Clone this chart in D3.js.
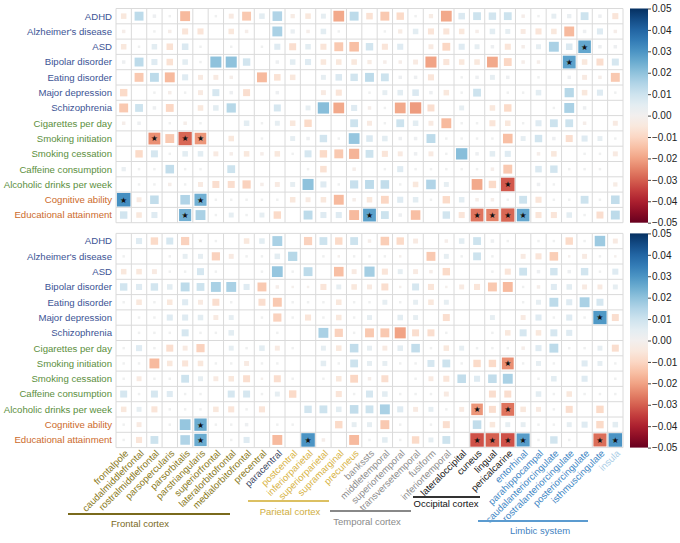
<!DOCTYPE html>
<html>
<head>
<meta charset="utf-8">
<script src="https://cdn.jsdelivr.net/npm/d3@7"></script>
<style>
  body { margin: 0; background: #fff; }
  svg text { font-family: "Liberation Sans", Arial, sans-serif; }
</style>
</head>
<body>
<svg id="chart" width="680" height="543"></svg>
<script>
// brain regions (columns) and the group each one belongs to
var regions = ["frontalpole", "caudalmiddlefrontal", "rostralmiddlefrontal", "parsopercularis",
  "parsorbitalis", "parstriangularis", "superiorfrontal", "lateralorbitofrontal", "medialorbitofrontal",
  "precentral", "paracentral", "postcentral", "inferiorparietal", "superiorparietal", "supramarginal",
  "precuneus", "bankssts", "middletemporal", "superiortemporal", "transversetemporal", "fusiform",
  "inferiortemporal", "lateraloccipital", "cuneus", "lingual", "pericalcarine", "entorhinal",
  "parahippocampal", "caudalanteriorcingulate", "rostralanteriorcingulate", "posteriorcingulate",
  "isthmuscingulate", "insula"];
var regionGroup = ["frontal", "frontal", "frontal", "frontal", "frontal", "frontal", "frontal", "frontal",
  "frontal", "frontal", "central", "parietal", "parietal", "parietal", "parietal", "parietal",
  "temporal", "temporal", "temporal", "temporal", "temporal", "temporal", "occipital", "occipital",
  "occipital", "occipital", "limbic", "limbic", "limbic", "limbic", "limbic", "limbic", "insula"];

// traits (rows)
var traits = ["ADHD", "Alzheimer's disease", "ASD", "Bipolar disorder", "Eating disorder",
  "Major depression", "Schizophrenia", "Cigarettes per day", "Smoking initiation", "Smoking cessation",
  "Caffeine consumption", "Alcoholic drinks per week", "Cognitive ability", "Educational attainment"];
var traitGroup = ["psych", "psych", "psych", "psych", "psych", "psych", "psych",
  "subst", "subst", "subst", "subst", "subst", "cog", "cog"];

// upper panel values, one array per trait
var topValues = [
  [-0.005,0.013,0.002,0.001,-0.016,0,0.001,-0.004,-0.013,0.005,0.015,-0.003,-0.005,0.004,-0.019,0.013,-0.007,-0.013,-0.009,0.001,-0.003,-0.019,0.007,0.01,0.009,0.01,-0.002,0.001,0.004,0.003,0.01,0.002,-0.006],
  [-0.002,0,0.001,-0.002,-0.006,-0.006,0,-0.005,-0.002,0,0.016,0.003,-0.002,0.005,0.001,0,0,0.001,-0.003,0.005,-0.006,-0.006,-0.005,-0.002,0.005,0.004,-0.004,-0.006,-0.005,-0.016,0.002,0.006,-0.002],
  [-0.005,0.001,0.005,-0.007,0.007,0.001,0,0.001,0,0.001,0.006,-0.008,0.005,-0.006,-0.013,-0.015,0.009,-0.006,0.006,0,-0.004,-0.01,0.006,0.004,0.002,-0.006,-0.002,0.004,0.016,0.007,0.026,0.002,0.002],
  [0.002,0.013,0.006,-0.007,0.005,0.001,0.02,0.02,0.009,0,0.002,0.005,0.006,-0.005,-0.005,-0.005,-0.003,-0.002,-0.002,-0.004,-0.02,-0.006,-0.005,-0.005,-0.019,-0.01,-0.002,-0.002,0,0.027,-0.005,-0.008,0.008],
  [0,-0.013,0.013,-0.016,0.006,-0.004,-0.004,-0.002,0,-0.016,-0.007,-0.005,0,0.004,0.007,0.009,0.013,0.01,0.002,0.002,-0.006,0,0.001,0.002,0.004,0.002,0,0.001,0,0.002,-0.004,-0.002,-0.013],
  [-0.009,0,0.001,-0.002,0.001,-0.004,0.008,0.002,-0.008,0,0.002,0,0,-0.004,-0.006,0,0.001,0.004,0.005,0.007,0.002,-0.005,0.001,0.01,0,0.001,0.001,0.005,0,0.014,-0.005,0.006,0.001],
  [-0.013,0.01,0.002,-0.01,0,-0.005,0.005,0.014,0,0,0.008,0,0.004,0.021,-0.019,0.006,-0.002,0.001,-0.019,-0.021,-0.008,0,0.004,0,-0.005,-0.009,0,0,0.001,0.016,0.002,0,0],
  [-0.002,0.002,0,0.001,-0.002,0.001,0,0,0.005,0.001,0.004,-0.005,-0.009,0,0,0.01,-0.004,0.001,0.01,0.005,-0.004,-0.016,0.001,0.001,-0.006,-0.005,0.001,0.006,0.01,0.01,-0.002,0,-0.004],
  [0,0,-0.023,-0.013,-0.029,-0.022,0,-0.005,0,0.001,0,0.004,0.002,0.009,0.001,0.019,0.007,0.005,0.002,0.002,0.013,0.001,0.001,0.001,0.001,-0.015,0.004,0.009,0.002,-0.008,0.006,0.004,0.001],
  [0,-0.009,0.008,0.001,0.005,0.005,-0.004,-0.002,-0.005,-0.002,-0.005,0.001,0.008,-0.009,-0.013,-0.017,0.01,-0.006,-0.004,0.002,-0.004,0.001,0.021,0.002,0.005,0.006,0,-0.002,-0.005,0,0.001,0.001,-0.004],
  [0.003,0.001,0.001,0.012,0.001,0.001,0,0.01,0,0,0,0,0.001,-0.007,0,-0.002,0,0.001,0.006,0.001,0.001,0.001,0.001,0.001,-0.002,-0.013,0,0.007,0.009,0.001,0.001,0.001,0],
  [0,0.001,0.001,-0.002,0.001,-0.004,-0.008,-0.008,-0.011,-0.002,-0.004,0.004,0.02,0.006,0.001,0.011,0.013,0.012,0.001,-0.005,0.015,0.004,0,-0.019,-0.009,-0.031,0,0.002,0.001,0,0,0,-0.003],
  [0.031,-0.004,0.012,0,0.015,0.024,0.001,0.001,0.001,0.001,0.001,-0.005,-0.004,-0.005,-0.016,-0.002,-0.005,-0.01,0.006,0.005,0.001,-0.009,0.005,-0.002,-0.002,0.001,0.01,-0.006,0.001,0.001,0.01,0.001,0.012],
  [0.009,-0.005,0.006,0,0.024,0.016,0.001,0.004,0.001,0.004,-0.009,0,0.013,0.006,0.006,-0.016,0.027,0.01,0.002,-0.015,0,0.009,-0.006,-0.027,-0.025,-0.029,0.026,-0.006,-0.006,0.005,0.001,-0.008,0.013]
];
// lower panel values
var bottomValues = [
  [0,0.006,-0.009,0.008,-0.011,0.001,0.001,0,-0.005,0.005,0.016,0,-0.011,0.01,-0.009,0.01,-0.002,-0.012,-0.009,-0.004,0,-0.002,0.005,0.01,0.002,0.001,0,0.001,0.001,-0.009,0.001,0.018,-0.004],
  [0.001,0,0,0.001,0.004,0.004,-0.011,-0.004,0.001,0.001,0.005,0.014,0,0.001,-0.001,0.001,0.001,0.001,-0.001,0,-0.013,0.004,0.001,0.01,0.001,0,-0.004,-0.006,-0.012,-0.001,-0.004,0.001,-0.001],
  [-0.005,-0.005,-0.004,0.001,0.001,0.008,0.001,0,0,0.001,0.019,0.001,0.013,0,-0.015,-0.004,0.017,-0.006,0.004,-0.004,-0.002,-0.009,0,0,0.001,-0.006,0.01,0.002,0.009,0.002,0.009,0.001,0.006],
  [0.009,0.006,0.009,0.005,0.013,0.01,0.016,0.016,0.006,-0.013,-0.002,-0.001,-0.001,-0.006,0.004,-0.005,-0.004,-0.008,-0.001,0.008,-0.006,-0.001,-0.004,-0.006,-0.013,-0.016,0.001,-0.002,0.006,0.005,-0.004,-0.004,0.004],
  [0.001,-0.005,0.001,-0.005,0.006,-0.004,-0.008,0.001,0,-0.008,-0.013,0.001,0.001,0.001,-0.005,0.001,0.001,0.004,0.001,0.004,-0.005,0.004,0,0,0,0,0.001,0.004,0.013,0.006,0.016,0.008,0],
  [0,0.001,0.001,0.006,0.006,0.005,-0.004,0.004,0,0.001,-0.011,0.001,-0.006,0.001,-0.005,0.001,0.004,0,0.005,0.004,0,-0.008,0,0,0.004,0,-0.004,0.006,0.001,0.006,0.001,0.029,-0.008],
  [0,0.001,0.001,0.001,0.008,0.001,0.001,0.005,0,0,0.001,0,0,0.016,-0.011,0.001,-0.013,-0.013,-0.02,-0.008,-0.008,0.001,0,0,0.001,-0.005,0.008,-0.005,0.008,0.006,0,0,0],
  [0.001,0.006,0.001,-0.008,-0.004,-0.011,0,0.004,0.001,0.005,-0.004,0.001,0,0.004,-0.005,0.012,0.004,-0.004,0.005,0.012,0.001,-0.005,0.004,0.001,0.001,0.001,-0.002,0.006,0.013,0.001,0.001,0.004,-0.008],
  [0.001,0.001,-0.016,-0.005,-0.006,-0.005,0.001,0.001,-0.004,0.001,0.001,0,0,0.005,0.001,0.01,0.004,0.004,0.001,0.001,0.008,0.01,0.001,-0.009,-0.009,-0.023,0.001,0.004,0.001,0,0.006,0.004,0.001],
  [0.001,-0.004,0.001,0.001,0.01,0.004,-0.004,-0.005,-0.008,-0.001,-0.008,0.001,0,0.001,-0.005,-0.01,-0.002,-0.008,0,0.001,-0.004,-0.006,0.012,0.006,0.012,0.016,0,0.001,0.005,0,0.006,0,0.001],
  [0.008,0.001,0.008,0.006,0.001,0.001,0,0.008,0.008,0.001,0.004,-0.009,0,0,-0.006,0.001,0.008,0.005,0.001,0.001,0.001,-0.004,0,0,-0.008,-0.008,0,0.005,0.001,-0.005,0.001,0.001,0.001],
  [-0.005,0.004,-0.006,0.001,0.001,0.001,-0.005,-0.006,0.001,-0.006,0,0,0.009,0.01,0.005,0.012,0.01,0.016,0.006,-0.004,0.004,0.001,-0.004,-0.022,-0.008,-0.027,-0.005,-0.004,0.001,-0.008,0,-0.009,0],
  [0.001,-0.004,0,0.001,0.019,0.025,0.001,0.001,0.002,0,0.001,0.001,0,0,-0.009,0.004,0.004,-0.013,0.001,0,0.001,-0.008,0,0.012,-0.005,0.004,0.004,0.001,0.001,0.004,0.006,-0.009,0.005],
  [0.001,-0.006,0.01,0,0.015,0.025,0,0.001,0.006,0,-0.016,0,0.03,-0.002,0,-0.016,0.001,0.005,0.001,-0.009,0.004,0.01,0,-0.032,-0.03,-0.032,0.028,0.001,0.009,0.001,0,-0.028,0.03]
];
// significant cells [row, column]
var topStars = [[2,30],[3,29],[8,2],[8,4],[8,5],[11,25],[12,0],[12,5],[13,4],[13,16],[13,23],[13,24],[13,25],[13,26]];
var bottomStars = [[5,31],[8,25],[11,23],[11,25],[12,5],[13,5],[13,12],[13,23],[13,24],[13,25],[13,26],[13,31],[13,32]];

var colorTicks = [0.05, 0.04, 0.03, 0.02, 0.01, 0, -0.01, -0.02, -0.03, -0.04, -0.05];

var groupNames = ["Frontal cortex", "Parietal cortex", "Temporal cortex", "Occipital cortex", "Limbic system"];

// ---- styles ----
var regionColor = {frontal: "#8a7a22", central: "#3e4a66", parietal: "#d8b446", temporal: "#8f8f8f",
  occipital: "#1a1a1a", limbic: "#3f88c5", insula: "#a9cde6"};
var traitColor = {psych: "#3d5495", subst: "#5b8f3d", cog: "#cc6b2c"};
var groupStyle = [
  {x1: 68, x2: 230, y: 514, ty: 527, tx: 140, line: "#7a6a1c", text: "#7a6a1c"},
  {x1: 248, x2: 329, y: 501, ty: 515, tx: 290, line: "#dcc062", text: "#cfae3e"},
  {x1: 330, x2: 411, y: 511, ty: 525, tx: 367, line: "#888888", text: "#8a8a8a"},
  {x1: 413, x2: 480, y: 497, ty: 507, tx: 446, line: "#333333", text: "#111111"},
  {x1: 478, x2: 588, y: 521, ty: 534, tx: 540, line: "#5b9bd0", text: "#3f82bf"}
];

var svg = d3.select("#chart");
var left = 116, right = 623;
var panelTops = [8.5, 233.4], panelH = 214.2;
var barX = 630, barW = 18;
var color = d3.scaleSequential(d3.interpolateRdBu).domain([-0.05, 0.05]);

var x = d3.scaleBand().domain(d3.range(regions.length)).range([left, right]);
var cell = x.bandwidth();
var size = d3.scaleSqrt().domain([0, 0.03]).range([0, cell * 0.88]).clamp(true);

// gradient for the colour bars
var grad = svg.append("defs").append("linearGradient")
  .attr("id", "cbar").attr("x1", 0).attr("y1", 1).attr("x2", 0).attr("y2", 0);
d3.range(0, 1.001, 0.05).forEach(function (t) {
  grad.append("stop").attr("offset", t).attr("stop-color", d3.interpolateRdBu(t));
});

function draw_panel(values, stars, top) {
  var y = d3.scaleBand().domain(d3.range(traits.length)).range([top, top + panelH]);
  var g = svg.append("g");

  // grid
  var grid = g.append("g").attr("stroke", "#dadada").attr("stroke-width", 1);
  x.domain().forEach(function (i) {
    grid.append("line").attr("x1", x(i)).attr("x2", x(i)).attr("y1", top).attr("y2", top + panelH);
  });
  grid.append("line").attr("x1", right).attr("x2", right).attr("y1", top).attr("y2", top + panelH);
  y.domain().forEach(function (r) {
    grid.append("line").attr("x1", left).attr("x2", right).attr("y1", y(r)).attr("y2", y(r));
  });
  grid.append("line").attr("x1", left).attr("x2", right).attr("y1", top + panelH).attr("y2", top + panelH);

  // squares
  var cells = [];
  values.forEach(function (row, r) {
    row.forEach(function (v, c) { if (v !== 0) cells.push({r: r, c: c, v: v}); });
  });
  g.selectAll("rect.val").data(cells).enter().append("rect")
    .attr("class", "val")
    .attr("x", function (d) { return x(d.c) + (cell - size(Math.abs(d.v))) / 2; })
    .attr("y", function (d) { return y(d.r) + (y.bandwidth() - size(Math.abs(d.v))) / 2; })
    .attr("width", function (d) { return size(Math.abs(d.v)); })
    .attr("height", function (d) { return size(Math.abs(d.v)); })
    .attr("fill", function (d) { return color(d.v); });

  // stars
  g.selectAll("text.star").data(stars).enter().append("text")
    .attr("class", "star")
    .attr("x", function (d) { return x(d[1]) + cell / 2; })
    .attr("y", function (d) { return y(d[0]) + y.bandwidth() / 2; })
    .attr("dy", "0.36em")
    .attr("text-anchor", "middle")
    .style("font-family", "DejaVu Sans")
    .style("font-size", "8px")
    .attr("fill", "#111")
    .text("\u2605");

  // row labels
  g.selectAll("text.trait").data(traits).enter().append("text")
    .attr("class", "trait")
    .attr("x", left - 4)
    .attr("y", function (d, i) { return y(i) + y.bandwidth() / 2; })
    .attr("dy", "0.35em")
    .attr("text-anchor", "end")
    .style("font-size", "9.6px")
    .attr("fill", function (d, i) { return traitColor[traitGroup[i]]; })
    .text(function (d) { return d; });

  // colour bar
  var cb = d3.scaleLinear().domain([-0.05, 0.05]).range([top + panelH, top]);
  g.append("rect").attr("x", barX).attr("y", top).attr("width", barW).attr("height", panelH)
    .attr("fill", "url(#cbar)");
  var ax = g.append("g").attr("transform", "translate(" + (barX + barW) + ",0)")
    .call(d3.axisRight(cb).tickValues(colorTicks).tickFormat(d3.format(".2f")).tickSize(3).tickPadding(1));
  ax.select(".domain").remove();
  ax.selectAll("line").attr("stroke", "#444");
  ax.selectAll("text").style("font-size", "10px").attr("fill", "#222")
    .style("font-family", "'Liberation Sans', Arial, sans-serif");
}

draw_panel(topValues, topStars, panelTops[0]);
draw_panel(bottomValues, bottomStars, panelTops[1]);

// column labels
var labelY = panelTops[1] + panelH + 4;
svg.append("g").selectAll("text").data(regions).enter().append("text")
  .attr("transform", function (d, i) {
    return "translate(" + (x(i) + cell / 2 + 3) + "," + labelY + ") rotate(-45)";
  })
  .attr("text-anchor", "end")
  .attr("dy", "0.35em")
  .style("font-size", "9.5px")
  .attr("fill", function (d, i) { return regionColor[regionGroup[i]]; })
  .text(function (d) { return d; });

// region group brackets
var gl = svg.append("g");
groupNames.forEach(function (name, i) {
  var s = groupStyle[i];
  gl.append("line").attr("x1", s.x1).attr("x2", s.x2).attr("y1", s.y).attr("y2", s.y)
    .attr("stroke", s.line).attr("stroke-width", 2);
  gl.append("text").attr("x", s.tx).attr("y", s.ty).attr("text-anchor", "middle")
    .style("font-size", "9.5px").attr("fill", s.text).text(name);
});
</script>
</body>
</html>
